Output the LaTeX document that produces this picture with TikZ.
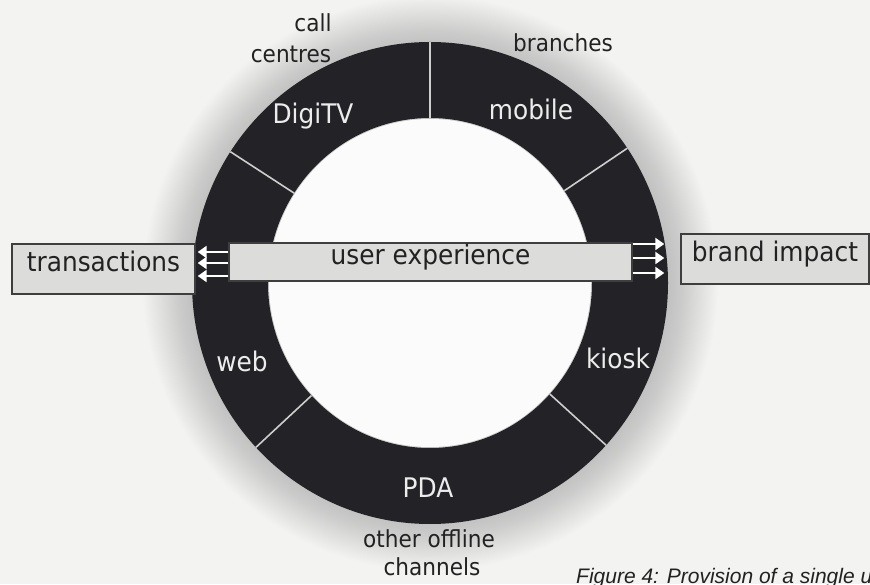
\documentclass[tikz,border=0pt]{standalone}
\usepackage{fontspec}
\setmainfont{DejaVu Sans}
\newfontfamily\labelfont[FakeStretch=0.92]{DejaVu Sans}
\newfontfamily\capfont{Liberation Sans}
\usetikzlibrary{arrows.meta,calc}

\definecolor{bgc}{RGB}{243,243,241}
\definecolor{halo}{RGB}{190,190,190}
\definecolor{ringc}{RGB}{35,35,39}
\definecolor{boxfill}{RGB}{220,220,218}
\definecolor{boxline}{RGB}{62,62,62}
\definecolor{inkc}{RGB}{34,34,34}
\definecolor{paleink}{RGB}{236,236,236}

% soft grey halo around the ring
\pgfdeclareradialshading{haloshade}{\pgfpoint{0bp}{0bp}}{%
  color(0bp)=(bgc); color(19.5bp)=(halo); color(21bp)=(halo!75!bgc);
  color(24bp)=(bgc); color(50bp)=(bgc)}

\tikzset{
  ringlabel/.style={text=paleink, font=\labelfont\fontsize{27}{30}\selectfont, anchor=base, inner sep=0pt},
  outlabel/.style={text=inkc, font=\labelfont\fontsize{23.5}{27}\selectfont, anchor=base, inner sep=0pt},
  boxnode/.style={draw=boxline, line width=1.4pt, fill=boxfill, text=inkc,
    font=\labelfont\fontsize{27}{30}\selectfont, inner sep=0pt,
    text height=0.75em, text depth=0.25em},
  divider/.style={draw=paleink!85!ringc, line width=1.6pt},
  flow/.style={draw=white, line width=2.2pt, -{Triangle[length=9pt,width=12pt]}}
}

\begin{document}
\begin{tikzpicture}[x=1pt,y=1pt]
  \useasboundingbox (0,0) rectangle (870,584);
  \clip (0,0) rectangle (870,584);
  \fill[bgc] (0,0) rectangle (870,584);

  \coordinate (c) at (430,301);

  % halo and ring
  \shade[shading=haloshade] (c) circle (300);
  \fill[ringc, even odd rule] (c) ellipse [x radius=238, y radius=241]
                              (c) ellipse [x radius=162, y radius=165];
  \fill[white!70!bgc] (c) ellipse [x radius=161, y radius=164];

  % segment dividers
  \foreach \a in {90,34,147,223,317.7}
    \draw[divider] ($(c)+(\a:162pt and 165pt)$) -- ($(c)+(\a:238pt and 241pt)$);

  % channel labels inside the ring
  \node[ringlabel] (digitv) at (313,460) {DigiTV};
  \node[ringlabel] (mobile) at (531,464) {mobile};
  \node[ringlabel] (web)    at (242,212) {web};
  \node[ringlabel] (kiosk)  at (618,215) {kiosk};
  \node[ringlabel] (pda)    at (428,87)  {PDA};

  % labels outside the ring
  \node[outlabel] (call)     at (313,552) {call};
  \node[outlabel] (centres)  at (291,521) {centres};
  \node[outlabel] (branches) at (563,532) {branches};
  \node[outlabel] (offline)  at (429,37)  {other offline};
  \node[outlabel] (channels) at (432,9)   {channels};

  % bar and the two end boxes
  \node[boxnode, minimum width=403, minimum height=38] (ux) at (430.5,322) {user experience};
  \node[boxnode, minimum width=183, minimum height=50] (tr) at (103.5,315) {transactions};
  \node[boxnode, minimum width=188, minimum height=50] (bi) at (775,325) {brand impact};

  % flows out of the bar
  \foreach \yy in {332,321,308}
    \draw[flow, shorten >=2pt] (ux.west |- 0,\yy) -- (tr.east |- 0,\yy);
  \foreach \yy in {340,326,311}
    \draw[flow, shorten >=16pt] (ux.east |- 0,\yy) -- (bi.west |- 0,\yy);

  % caption
  \node[anchor=base west, inner sep=0pt, text=inkc,
        font=\capfont\itshape\fontsize{21}{25}\selectfont] (cap) at (576,1)
        {Figure 4: Provision of a single u};
\end{tikzpicture}
\end{document}
